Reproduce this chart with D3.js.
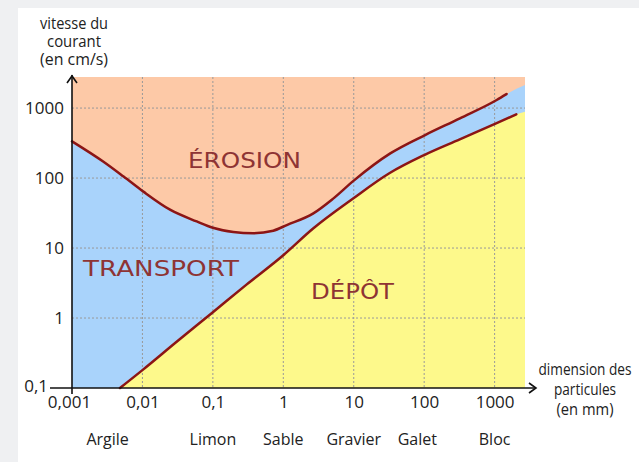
<!DOCTYPE html>
<html lang="fr">
<head>
<meta charset="UTF-8">
<title>Diagramme de Hjulström</title>
<script src="https://d3js.org/d3.v7.min.js"></script>
<style>
  body { margin: 0; background: #eff0f2; }
  svg { display: block; }
  .tick text { font-family: "Open Sans", "DejaVu Sans", sans-serif; font-size: 17px; fill: #222; }
  .cat { font-family: "Open Sans", "DejaVu Sans", sans-serif; font-size: 16px; fill: #222; }
  .title { font-family: "Open Sans", "DejaVu Sans", sans-serif; font-size: 16px; fill: #222; }
  .zone { font-family: "DejaVu Sans", sans-serif; font-size: 22px; fill: #8e3434; }
  .grid line { stroke: #999; stroke-dasharray: 2,2; stroke-width: 1; }
</style>
</head>
<body>
<svg width="639" height="462"></svg>
<script>
// courbe d'érosion (taille en mm, vitesse en cm/s)
const erosionSize  = [0.001, 0.0028, 0.0054, 0.0103, 0.025, 0.059, 0.1, 0.195, 0.375, 0.72, 1.12, 2.67, 5, 10, 33, 103, 322, 1070, 1480];
const erosionSpeed = [335, 171, 105, 64, 35, 24, 19.5, 17, 16.3, 17.7, 21.3, 31.3, 50, 92, 225, 412, 714, 1306, 1590];
// courbe de dépôt
const depotSize  = [0.0048, 0.01, 0.03, 0.1, 0.3, 1, 2.65, 9.8, 32, 100, 320, 1050, 2030];
const depotSpeed = [0.1, 0.18, 0.45, 1.21, 3.0, 7.9, 19, 51, 117, 213, 357, 604, 813];
// limites des zones au bord droit
const erosionEdge = [2700, 2130];
const depotEdge = [2700, 885];

const xTicks = [0.001, 0.01, 0.1, 1, 10, 100, 1000];
const xTickLabels = ["0,001", "0,01", "0,1", "1", "10", "100", "1000"];
const yTicks = [0.1, 1, 10, 100, 1000];
const yTickLabels = ["0,1", "1", "10", "100", "1000"];
const categories = ["Argile", "Limon", "Sable", "Gravier", "Galet", "Bloc"];
const categoryAt = [0.0032, 0.1, 1, 10, 80, 1000];

const svg = d3.select("svg");
svg.append("rect").attr("x", 18).attr("y", 8).attr("width", 621).attr("height", 454).attr("fill", "#fff");

const x = d3.scaleLog().domain([0.001, 2700]).range([72, 525]);
const y = d3.scaleLog().domain([0.1, 2780]).range([388, 77]);

const erosion = erosionSize.map((s, i) => [s, erosionSpeed[i]]);
const depot = depotSize.map((s, i) => [s, depotSpeed[i]]);

// zones colorées
svg.append("rect")
  .attr("x", x(0.001)).attr("y", y(2780))
  .attr("width", x(2700) - x(0.001)).attr("height", y(0.1) - y(2780))
  .attr("fill", "#fdc9a7");

const area = d3.area()
  .x(d => x(d[0])).y1(d => y(d[1])).y0(y(0.1))
  .curve(d3.curveMonotoneX);

svg.append("path").datum(erosion.concat([erosionEdge])).attr("d", area).attr("fill", "#a9d3fb");
svg.append("path").datum(depot.concat([depotEdge])).attr("d", area).attr("fill", "#fdf98b");

// grille
const grid = svg.append("g").attr("class", "grid");
grid.selectAll(".v").data(xTicks.slice(1)).enter().append("line")
  .attr("x1", d => x(d)).attr("x2", d => x(d))
  .attr("y1", y(2780)).attr("y2", y(0.1));
grid.selectAll(".h").data(yTicks.slice(1)).enter().append("line")
  .attr("x1", x(0.001)).attr("x2", x(2700))
  .attr("y1", d => y(d)).attr("y2", d => y(d));

// courbes
const line = d3.line().x(d => x(d[0])).y(d => y(d[1])).curve(d3.curveMonotoneX);
svg.append("path").datum(erosion).attr("d", line)
  .attr("fill", "none").attr("stroke", "#8c1515").attr("stroke-width", 2.5).attr("stroke-linecap", "round");
svg.append("path").datum(depot).attr("d", line)
  .attr("fill", "none").attr("stroke", "#8c1515").attr("stroke-width", 2.5).attr("stroke-linecap", "round");

// noms des zones
svg.append("text").attr("class", "zone").attr("x", 188).attr("y", 168)
  .attr("textLength", 113).attr("lengthAdjust", "spacingAndGlyphs").text("ÉROSION");
svg.append("text").attr("class", "zone").attr("x", 83).attr("y", 276)
  .attr("textLength", 156).attr("lengthAdjust", "spacingAndGlyphs").text("TRANSPORT");
svg.append("text").attr("class", "zone").attr("x", 311).attr("y", 299)
  .attr("textLength", 83).attr("lengthAdjust", "spacingAndGlyphs").text("DÉPÔT");

// axes
const xAxis = svg.append("g")
  .attr("transform", "translate(0," + y(0.1) + ")")
  .call(d3.axisBottom(x).tickValues(xTicks).tickSize(0).tickPadding(8)
    .tickFormat((d, i) => xTickLabels[i]));
xAxis.select(".domain").remove();
xAxis.selectAll(".tick text").filter((d, i) => i === 0).attr("dx", -3);

const yAxis = svg.append("g")
  .attr("transform", "translate(" + x(0.001) + ",0)")
  .call(d3.axisLeft(y).tickValues(yTicks).tickSize(0).tickPadding(8)
    .tickFormat((d, i) => yTickLabels[i]));
yAxis.select(".domain").remove();
yAxis.selectAll(".tick text").filter((d, i) => i === 0).attr("x", -24).attr("dy", "0.2em");

const ax = svg.append("g").attr("stroke", "#111").attr("stroke-width", 1.6).attr("fill", "none");
ax.append("line").attr("x1", 50).attr("x2", 536).attr("y1", y(0.1)).attr("y2", y(0.1));
ax.append("line").attr("x1", x(0.001)).attr("x2", x(0.001)).attr("y1", 394).attr("y2", 75);
ax.append("path").attr("d", `M${x(0.001) - 5},83 L${x(0.001)},76 L${x(0.001) + 5},83`);
ax.append("path").attr("d", `M529,${y(0.1) - 5} L536,${y(0.1)} L529,${y(0.1) + 5}`);

// catégories
svg.selectAll(".cat").data(categories).enter().append("text")
  .attr("class", "cat").attr("text-anchor", "middle")
  .attr("x", (d, i) => x(categoryAt[i])).attr("y", 445)
  .text(d => d);

// titres des axes
const yTitle = ["vitesse du", "courant", "(en cm/s)"];
const yTitleW = [68, 54, 68];
svg.selectAll(".yt").data(yTitle).enter().append("text")
  .attr("class", "title").attr("text-anchor", "middle")
  .attr("x", 74).attr("y", (d, i) => 29 + i * 18)
  .attr("textLength", (d, i) => yTitleW[i]).attr("lengthAdjust", "spacingAndGlyphs")
  .text(d => d);
const xTitle = ["dimension des", "particules", "(en mm)"];
const xTitleW = [93, 62, 57];
svg.selectAll(".xt").data(xTitle).enter().append("text")
  .attr("class", "title").attr("text-anchor", "middle")
  .attr("x", 585).attr("y", (d, i) => 375 + i * 20)
  .attr("textLength", (d, i) => xTitleW[i]).attr("lengthAdjust", "spacingAndGlyphs")
  .text(d => d);
</script>
</body>
</html>
